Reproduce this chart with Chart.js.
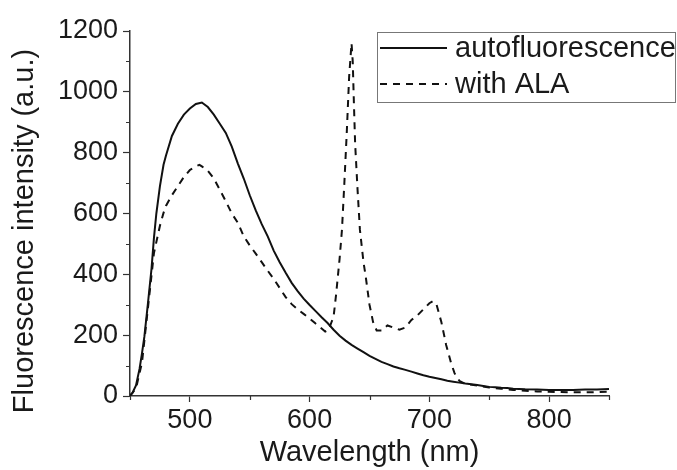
<!DOCTYPE html>
<html><head><meta charset="utf-8">
<script src="https://cdn.jsdelivr.net/npm/chart.js@4"></script>
<style>html,body{margin:0;padding:0;background:#fff;}#wrap{width:677px;height:470px;position:relative;}</style>
</head><body><div id="wrap"><canvas id="c" width="677" height="470"></canvas></div>
<script>
const seriesLabels = ['autofluorescence', 'with ALA'];
const xTickValues = [500, 600, 700, 800];
const yTickValues = [0, 200, 400, 600, 800, 1000, 1200];
const xMinorTicks = [450, 550, 650, 750, 850];
const yMinorTicks = [100, 300, 500, 700, 900, 1100];

const autoWavelength = [450,452,455,458,460,462,465,468,470,472,475,478,480,485,490,495,500,505,510,515,520,525,530,535,540,545,550,555,560,565,570,575,580,585,590,595,600,605,610,615,620,625,630,635,640,645,650,655,660,665,670,675,680,685,690,695,700,705,710,715,720,725,730,735,740,745,750,755,760,765,770,775,780,790,800,810,820,830,840,850];
const autoIntensity = [2,10,35,90,140,195,305,420,520,600,690,760,790,855,895,925,945,960,965,950,925,895,865,820,765,715,660,610,565,525,478,440,405,372,345,320,299,279,259,240,218,198,182,168,156,144,132,122,112,105,97,91,86,80,74,68,63,59,55,50,47,44,41,39,36,33,30,29,27,26,24,23,22,21,20,20,20,21,21,23];

const alaWavelength = [450,455,460,465,470,475,478,480,485,490,495,500,505,508,510,515,520,525,530,535,540,545,550,555,560,565,570,575,580,585,590,595,600,605,610,613,616,618,620,622,625,627,629,631,633,635,636,637,638,640,642,645,647,650,653,656,660,665,670,675,680,685,690,695,700,703,706,710,714,718,721,725,730,740,750,760,770,780,790,800,810,820,830,840,850];
const alaIntensity = [0,25,110,290,470,560,602,625,660,690,720,743,755,760,755,740,715,678,640,600,570,525,495,468,440,412,385,355,325,302,285,270,255,238,222,212,218,240,260,330,450,546,700,865,1050,1160,1100,960,830,680,546,440,388,300,243,215,215,232,225,218,225,250,265,285,305,312,300,243,168,110,75,50,40,34,28,24,20,17,15,14,13,12,12,13,14];

const FONT = "'Liberation Sans', Arial, sans-serif";
const INK = '#1a1a1a';
const AXIS = '#333333';

function toPoints(xs, ys) { return xs.map((x, i) => ({ x: x, y: ys[i] })); }

const minorTicksPlugin = {
  id: 'minorTicks',
  afterDraw(chart) {
    const ctx = chart.ctx, xs = chart.scales.x, ys = chart.scales.y;
    ctx.save();
    ctx.strokeStyle = AXIS; ctx.lineWidth = 1.2;
    ctx.beginPath();
    xMinorTicks.forEach(v => { const px = Math.round(xs.getPixelForValue(v)) + 0.5; ctx.moveTo(px, ys.bottom); ctx.lineTo(px, ys.bottom + 4); });
    yMinorTicks.forEach(v => { const py = Math.round(ys.getPixelForValue(v)) + 0.5; ctx.moveTo(xs.left, py); ctx.lineTo(xs.left - 4, py); });
    ctx.stroke();
    ctx.restore();
  }
};

const yTitlePlugin = {
  id: 'yTitle',
  afterDraw(chart) {
    const ctx = chart.ctx;
    ctx.save();
    ctx.translate(25, 231);
    ctx.rotate(-Math.PI / 2);
    ctx.font = '29px ' + FONT;
    ctx.fillStyle = INK;
    ctx.textAlign = 'center';
    ctx.textBaseline = 'middle';
    ctx.fillText('Fluorescence intensity (a.u.)', 0, 0);
    ctx.restore();
  }
};

const legendPlugin = {
  id: 'boxLegend',
  afterDraw(chart) {
    const ctx = chart.ctx;
    ctx.save();
    ctx.strokeStyle = '#777'; ctx.lineWidth = 1;
    ctx.strokeRect(377.5, 32.5, 298, 70);
    const rows = [48, 84];
    chart.data.datasets.forEach((ds, i) => {
      ctx.strokeStyle = ds.borderColor; ctx.lineWidth = 2;
      ctx.setLineDash(ds.borderDash || []);
      ctx.beginPath(); ctx.moveTo(380, rows[i]); ctx.lineTo(447, rows[i]); ctx.stroke();
      ctx.setLineDash([]);
      ctx.fillStyle = INK; ctx.font = '29px ' + FONT;
      ctx.textAlign = 'left'; ctx.textBaseline = 'middle';
      ctx.fillText(ds.label, 455, rows[i] + 1);
    });
    ctx.restore();
  }
};

new Chart(document.getElementById('c'), {
  type: 'line',
  data: {
    datasets: [
      { label: seriesLabels[0], data: toPoints(autoWavelength, autoIntensity), borderColor: '#111', borderWidth: 2, pointRadius: 0, tension: 0, fill: false },
      { label: seriesLabels[1], data: toPoints(alaWavelength, alaIntensity), borderColor: '#111', borderWidth: 2, borderDash: [7, 6], pointRadius: 0, tension: 0, fill: false }
    ]
  },
  options: {
    responsive: false,
    animation: false,
    devicePixelRatio: 1,
    layout: { padding: { left: 0, right: 68, top: 31, bottom: 0 } },
    plugins: { legend: { display: false }, tooltip: { enabled: false } },
    scales: {
      x: {
        type: 'linear', min: 450, max: 850,
        afterBuildTicks: s => { s.ticks = xTickValues.map(v => ({ value: v })); },
        afterFit: s => { s.height = 74; },
        grid: { drawOnChartArea: false, drawTicks: true, tickLength: 6, tickColor: AXIS, tickWidth: 1.2 },
        border: { display: true, color: AXIS, width: 1.5 },
        ticks: { color: INK, font: { family: FONT, size: 27 }, padding: 2, maxRotation: 0, autoSkip: false, callback: v => String(v) },
        title: { display: true, text: 'Wavelength (nm)', color: INK, font: { family: FONT, size: 29 }, padding: { top: 0, bottom: 0 } }
      },
      y: {
        type: 'linear', min: 0, max: 1200,
        afterBuildTicks: s => { s.ticks = yTickValues.map(v => ({ value: v })); },
        afterFit: s => { s.width = 130; },
        grid: { drawOnChartArea: false, drawTicks: true, tickLength: 7, tickColor: AXIS, tickWidth: 1.2 },
        border: { display: true, color: AXIS, width: 1.5 },
        ticks: { color: INK, font: { family: FONT, size: 27 }, padding: 5, autoSkip: false, callback: v => String(v) },
        title: { display: false }
      }
    }
  },
  plugins: [minorTicksPlugin, yTitlePlugin, legendPlugin]
});
</script>
</body></html>
